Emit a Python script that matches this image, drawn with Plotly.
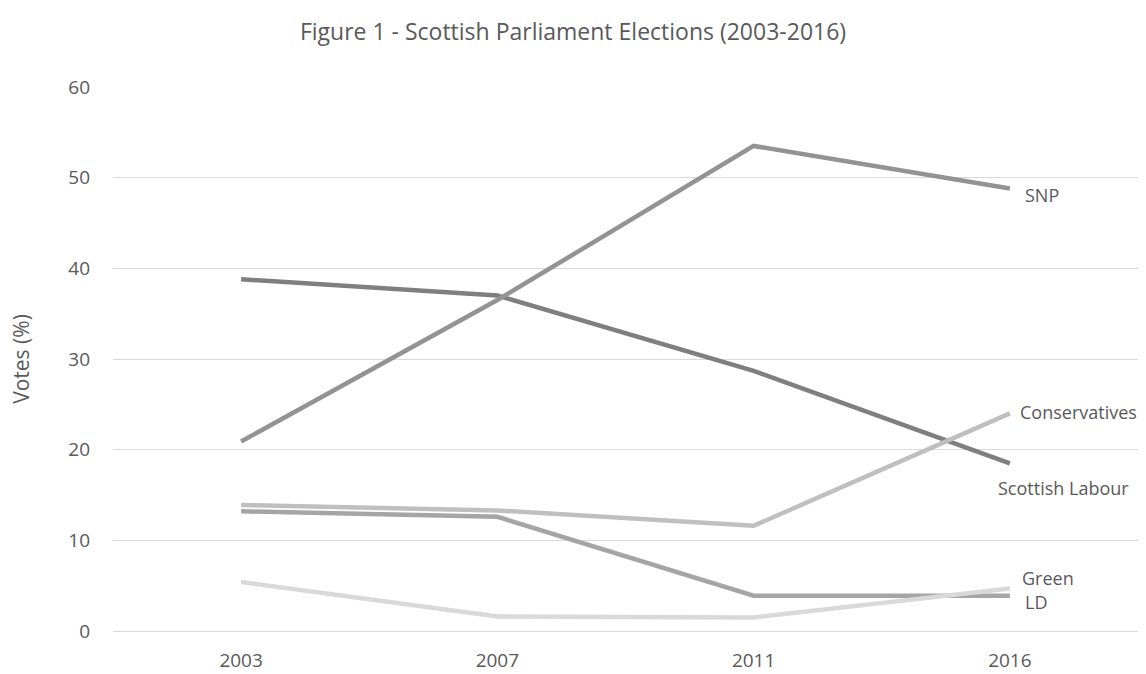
import plotly.graph_objects as go

years = ["2003", "2007", "2011", "2016"]
snp = [20.9, 36.5, 53.5, 48.8]
labour = [38.8, 37.0, 28.7, 18.5]
conservatives = [13.9, 13.3, 11.6, 24.0]
ld = [13.2, 12.6, 3.9, 3.9]
green = [5.4, 1.6, 1.5, 4.7]

series = [
    ("Scottish Labour", labour, "#7f7f7f"),
    ("SNP", snp, "#939393"),
    ("Conservatives", conservatives, "#bfbfbf"),
    ("LD", ld, "#a5a5a5"),
    ("Green", green, "#d9d9d9"),
]

FONT = "Open Sans"
TXT = "#595959"
fig = go.Figure()
for name, vals, col in series:
    fig.add_trace(go.Scatter(x=years, y=vals, mode="lines", name=name,
                             line=dict(color=col, width=4.5), showlegend=False))

# end-of-line labels: (text, y value, xshift px, yshift px)
labels = [
    ("SNP", snp[-1], 13, -6),
    ("Conservatives", conservatives[-1], 8, 1),
    ("Scottish Labour", labour[-1], -14, -25),
    ("Green", green[-1], 10, 10),
    ("LD", ld[-1], 13, -6),
]
for text, yv, xs, ys in labels:
    fig.add_annotation(x=3, y=yv, xref="x", yref="y", text=text, showarrow=False,
                       xanchor="left", yanchor="middle", xshift=xs, yshift=ys,
                       font=dict(family=FONT, size=18, color=TXT))

fig.update_layout(
    width=1146, height=674,
    margin=dict(l=113, r=8, t=87, b=43),
    paper_bgcolor="white", plot_bgcolor="white",
    title=dict(text="Figure 1 - Scottish Parliament Elections (2003-2016)",
               x=0.5, xanchor="center", y=1 - 32 / 674, yanchor="middle",
               font=dict(family=FONT, size=23, color=TXT)),
    font=dict(family=FONT, color=TXT),
)
fig.update_xaxes(type="category", range=[-0.5, 3.5], showgrid=False, zeroline=False,
                 showline=False, ticks="", ticklabelstandoff=16, automargin=False,
                 tickfont=dict(family=FONT, size=19, color=TXT))
fig.update_yaxes(range=[0, 60], dtick=10, tick0=0, showgrid=True, gridcolor="#d9d9d9",
                 gridwidth=1, zeroline=True, zerolinecolor="#d9d9d9", zerolinewidth=1,
                 showline=False, ticks="", ticklabelstandoff=22, automargin=False,
                 tickfont=dict(family=FONT, size=19, color=TXT),
                 title=dict(text="Votes (%)", standoff=32,
                            font=dict(family=FONT, size=21, color=TXT)))
for trace in fig.data:
    trace.cliponaxis = False

fig.write_html("out.html")
